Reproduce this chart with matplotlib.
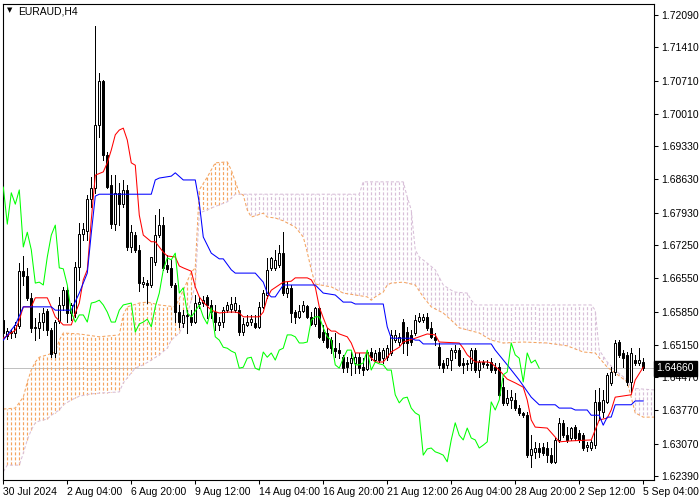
import matplotlib.pyplot as plt
import numpy as np
from matplotlib.transforms import blended_transform_factory

plt.rcParams['font.family'] = ['Liberation Sans', 'DejaVu Sans']

# ---- data (EURAUD H4) ----
symbol = "EURAUD,H4"

opens = [1.6567, 1.6534, 1.6540, 1.6540, 1.6555, 1.6670, 1.6660, 1.6614, 1.6551, 1.6551,
         1.6563, 1.6586, 1.6546, 1.6498, 1.6565, 1.6599, 1.6630, 1.6582, 1.6582, 1.6679,
         1.6748, 1.6755, 1.6822, 1.6845, 1.6978, 1.7070, 1.6914, 1.6851, 1.6769, 1.6835,
         1.6811, 1.6841, 1.6721, 1.6746, 1.6715, 1.6643, 1.6645, 1.6641, 1.6689, 1.6746,
         1.6767, 1.6683, 1.6677, 1.6641, 1.6584, 1.6561, 1.6576, 1.6574, 1.6563, 1.6601,
         1.6603, 1.6616, 1.6599, 1.6584, 1.6557, 1.6563, 1.6588, 1.6591, 1.6588, 1.6588,
         1.6542, 1.6557, 1.6563, 1.6561, 1.6553, 1.6595, 1.6620, 1.6677, 1.6677, 1.6683,
         1.6708, 1.6624, 1.6635, 1.6584, 1.6574, 1.6586, 1.6597, 1.6574, 1.6559, 1.6593,
         1.6542, 1.6540, 1.6525, 1.6508, 1.6504, 1.6489, 1.6479, 1.6477, 1.6477, 1.6489,
         1.6468, 1.6464, 1.6500, 1.6483, 1.6500, 1.6487, 1.6489, 1.6498, 1.6525, 1.6521,
         1.6563, 1.6542, 1.6536, 1.6540, 1.6565, 1.6567, 1.6574, 1.6551, 1.6532, 1.6510,
         1.6477, 1.6473, 1.6483, 1.6500, 1.6504, 1.6477, 1.6475, 1.6477, 1.6504, 1.6462,
         1.6479, 1.6475, 1.6479, 1.6468, 1.6468, 1.6426, 1.6393, 1.6399, 1.6399, 1.6382,
         1.6372, 1.6367, 1.6283, 1.6290, 1.6298, 1.6300, 1.6298, 1.6283, 1.6269, 1.6315,
         1.6351, 1.6325, 1.6319, 1.6342, 1.6330, 1.6325, 1.6300, 1.6298, 1.6304, 1.6395,
         1.6374, 1.6395, 1.6435, 1.6458, 1.6521, 1.6498, 1.6494, 1.6437, 1.6483, 1.6477,
         1.6479]
highs = [1.6572, 1.6551, 1.6548, 1.6563, 1.6687, 1.6702, 1.6677, 1.6624, 1.6572, 1.6582,
         1.6593, 1.6591, 1.6551, 1.6567, 1.6616, 1.6637, 1.6637, 1.6603, 1.6689, 1.6771,
         1.6771, 1.6830, 1.6868, 1.7186, 1.7087, 1.7072, 1.6921, 1.6872, 1.6872, 1.6856,
         1.6862, 1.6851, 1.6767, 1.6752, 1.6725, 1.6658, 1.6652, 1.6694, 1.6788, 1.6801,
         1.6784, 1.6704, 1.6694, 1.6645, 1.6599, 1.6588, 1.6588, 1.6588, 1.6620, 1.6616,
         1.6618, 1.6620, 1.6609, 1.6599, 1.6574, 1.6595, 1.6605, 1.6616, 1.6616, 1.6599,
         1.6572, 1.6578, 1.6578, 1.6578, 1.6605, 1.6630, 1.6698, 1.6700, 1.6715, 1.6725,
         1.6752, 1.6647, 1.6641, 1.6588, 1.6599, 1.6607, 1.6599, 1.6584, 1.6595, 1.6595,
         1.6557, 1.6551, 1.6532, 1.6540, 1.6519, 1.6494, 1.6489, 1.6500, 1.6498, 1.6498,
         1.6487, 1.6504, 1.6508, 1.6504, 1.6508, 1.6508, 1.6515, 1.6546, 1.6546, 1.6540,
         1.6569, 1.6553, 1.6546, 1.6578, 1.6582, 1.6580, 1.6582, 1.6563, 1.6540, 1.6519,
         1.6483, 1.6487, 1.6508, 1.6515, 1.6508, 1.6487, 1.6483, 1.6508, 1.6508, 1.6483,
         1.6483, 1.6483, 1.6487, 1.6477, 1.6477, 1.6445, 1.6420, 1.6420, 1.6414, 1.6389,
         1.6374, 1.6374, 1.6325, 1.6311, 1.6309, 1.6309, 1.6311, 1.6298, 1.6319, 1.6361,
         1.6357, 1.6342, 1.6342, 1.6346, 1.6336, 1.6330, 1.6311, 1.6315, 1.6420, 1.6424,
         1.6420, 1.6456, 1.6468, 1.6525, 1.6525, 1.6504, 1.6500, 1.6508, 1.6494, 1.6508,
         1.6487]
lows = [1.6532, 1.6527, 1.6529, 1.6532, 1.6551, 1.6641, 1.6609, 1.6542, 1.6525, 1.6529,
        1.6546, 1.6536, 1.6489, 1.6489, 1.6561, 1.6588, 1.6563, 1.6567, 1.6574, 1.6652,
        1.6736, 1.6736, 1.6805, 1.6835, 1.6952, 1.6904, 1.6845, 1.6761, 1.6757, 1.6767,
        1.6805, 1.6715, 1.6710, 1.6710, 1.6628, 1.6637, 1.6603, 1.6637, 1.6683, 1.6742,
        1.6673, 1.6668, 1.6637, 1.6563, 1.6553, 1.6553, 1.6540, 1.6557, 1.6561, 1.6593,
        1.6597, 1.6572, 1.6572, 1.6546, 1.6546, 1.6553, 1.6584, 1.6584, 1.6584, 1.6536,
        1.6536, 1.6555, 1.6557, 1.6551, 1.6551, 1.6593, 1.6614, 1.6673, 1.6673, 1.6679,
        1.6620, 1.6616, 1.6563, 1.6561, 1.6572, 1.6584, 1.6572, 1.6557, 1.6555, 1.6529,
        1.6521, 1.6508, 1.6498, 1.6489, 1.6487, 1.6458, 1.6458, 1.6452, 1.6456, 1.6456,
        1.6452, 1.6462, 1.6483, 1.6479, 1.6479, 1.6477, 1.6483, 1.6494, 1.6521, 1.6515,
        1.6498, 1.6494, 1.6515, 1.6536, 1.6563, 1.6563, 1.6546, 1.6529, 1.6515, 1.6466,
        1.6458, 1.6466, 1.6462, 1.6487, 1.6471, 1.6456, 1.6462, 1.6462, 1.6458, 1.6447,
        1.6468, 1.6466, 1.6458, 1.6456, 1.6405, 1.6389, 1.6389, 1.6382, 1.6378, 1.6367,
        1.6363, 1.6279, 1.6258, 1.6277, 1.6279, 1.6283, 1.6269, 1.6266, 1.6266, 1.6311,
        1.6321, 1.6311, 1.6315, 1.6315, 1.6311, 1.6294, 1.6292, 1.6294, 1.6298, 1.6357,
        1.6363, 1.6393, 1.6431, 1.6452, 1.6489, 1.6468, 1.6431, 1.6416, 1.6473, 1.6473,
        1.6462]
closes = [1.6540, 1.6544, 1.6542, 1.6557, 1.6670, 1.6660, 1.6614, 1.6551, 1.6553, 1.6563,
          1.6582, 1.6546, 1.6496, 1.6563, 1.6599, 1.6630, 1.6582, 1.6599, 1.6679, 1.6748,
          1.6759, 1.6822, 1.6845, 1.6978, 1.7070, 1.6914, 1.6847, 1.6769, 1.6835, 1.6811,
          1.6841, 1.6721, 1.6752, 1.6715, 1.6645, 1.6647, 1.6641, 1.6700, 1.6746, 1.6767,
          1.6677, 1.6675, 1.6641, 1.6584, 1.6563, 1.6578, 1.6578, 1.6563, 1.6603, 1.6605,
          1.6609, 1.6599, 1.6584, 1.6563, 1.6563, 1.6588, 1.6599, 1.6601, 1.6603, 1.6542,
          1.6559, 1.6563, 1.6569, 1.6553, 1.6595, 1.6624, 1.6673, 1.6698, 1.6694, 1.6708,
          1.6624, 1.6635, 1.6582, 1.6574, 1.6586, 1.6599, 1.6574, 1.6559, 1.6593, 1.6532,
          1.6525, 1.6510, 1.6508, 1.6502, 1.6498, 1.6466, 1.6468, 1.6487, 1.6489, 1.6466,
          1.6462, 1.6500, 1.6489, 1.6498, 1.6483, 1.6504, 1.6508, 1.6536, 1.6536, 1.6532,
          1.6519, 1.6519, 1.6521, 1.6567, 1.6574, 1.6574, 1.6551, 1.6532, 1.6525, 1.6473,
          1.6466, 1.6487, 1.6504, 1.6504, 1.6473, 1.6473, 1.6477, 1.6504, 1.6462, 1.6479,
          1.6475, 1.6473, 1.6462, 1.6462, 1.6410, 1.6393, 1.6403, 1.6405, 1.6382, 1.6372,
          1.6367, 1.6283, 1.6296, 1.6298, 1.6290, 1.6287, 1.6283, 1.6269, 1.6315, 1.6351,
          1.6325, 1.6315, 1.6340, 1.6319, 1.6315, 1.6298, 1.6304, 1.6311, 1.6395, 1.6378,
          1.6399, 1.6452, 1.6458, 1.6519, 1.6494, 1.6487, 1.6437, 1.6498, 1.6477, 1.6483,
          1.6466]
last_price = 1.64660

# Ichimoku lines, as (bar, value) break points
tenkan_bars = [0, 3, 4, 5, 7, 8, 11, 12, 13, 15, 17, 18, 19, 20, 21, 22, 23, 25, 26, 27,
               28, 29, 30, 31, 32, 33, 34, 35, 37, 38, 40, 41, 43, 44, 45, 47, 48, 49, 50, 52,
               54, 56, 58, 59, 60, 64, 65, 66, 67, 70, 72, 73, 76, 77, 78, 79, 80, 81, 82, 83,
               84, 86, 87, 88, 91, 92, 93, 95, 96, 97, 99, 100, 103, 106, 108, 109, 114, 115, 116, 118,
               121, 122, 124, 126, 128, 130, 131, 132, 133, 136, 138, 139, 142, 147, 148, 149, 151, 152, 153, 157,
               158, 160]
tenkan_vals = [1.6529, 1.6546, 1.6567, 1.6595, 1.6595, 1.6614, 1.6614, 1.6595, 1.6574, 1.6557,
               1.6557, 1.6582, 1.6603, 1.6652, 1.6673, 1.6778, 1.6872, 1.6879, 1.6898, 1.6925,
               1.6957, 1.6967, 1.6971, 1.6946, 1.6898, 1.6893, 1.6788, 1.6746, 1.6732, 1.6732,
               1.6710, 1.6702, 1.6700, 1.6681, 1.6677, 1.6670, 1.6637, 1.6616, 1.6605, 1.6588,
               1.6582, 1.6584, 1.6584, 1.6582, 1.6574, 1.6574, 1.6584, 1.6614, 1.6630, 1.6647,
               1.6649, 1.6656, 1.6656, 1.6652, 1.6637, 1.6595, 1.6572, 1.6551, 1.6544, 1.6544,
               1.6538, 1.6532, 1.6519, 1.6498, 1.6498, 1.6487, 1.6479, 1.6479, 1.6489, 1.6500,
               1.6510, 1.6521, 1.6529, 1.6538, 1.6536, 1.6521, 1.6519, 1.6508, 1.6494, 1.6479,
               1.6479, 1.6477, 1.6462, 1.6443, 1.6435, 1.6426, 1.6399, 1.6357, 1.6342, 1.6340,
               1.6321, 1.6311, 1.6313, 1.6315, 1.6336, 1.6357, 1.6361, 1.6378, 1.6405, 1.6410,
               1.6441, 1.6468]
kijun_bars = [0, 3, 5, 12, 13, 17, 19, 21, 22, 23, 24, 37, 38, 39, 42, 43, 45, 48, 49, 50,
              52, 54, 55, 57, 58, 63, 65, 66, 67, 68, 70, 78, 80, 83, 85, 87, 88, 95, 96, 97,
              102, 103, 104, 105, 122, 123, 126, 129, 132, 134, 138, 139, 142, 143, 146, 147, 149, 150, 151, 152,
              153, 157, 158, 160]
kijun_vals = [1.6525, 1.6557, 1.6595, 1.6595, 1.6588, 1.6588, 1.6624, 1.6666, 1.6750, 1.6828,
              1.6832, 1.6832, 1.6862, 1.6866, 1.6870, 1.6877, 1.6862, 1.6862, 1.6814, 1.6742,
              1.6708, 1.6696, 1.6696, 1.6673, 1.6666, 1.6666, 1.6647, 1.6624, 1.6616, 1.6616,
              1.6641, 1.6641, 1.6624, 1.6620, 1.6605, 1.6605, 1.6601, 1.6601, 1.6553, 1.6529,
              1.6529, 1.6525, 1.6525, 1.6517, 1.6517, 1.6504, 1.6473, 1.6441, 1.6405, 1.6389,
              1.6389, 1.6382, 1.6382, 1.6378, 1.6378, 1.6367, 1.6367, 1.6346, 1.6363, 1.6363,
              1.6389, 1.6389, 1.6397, 1.6397]
span_a_bars = [0, 3, 5, 6, 7, 8, 9, 11, 13, 14, 15, 19, 24, 29, 30, 31, 34, 36, 39, 43,
               45, 47, 48, 49, 51, 53, 56, 57, 59, 60, 61, 62, 65, 66, 68, 70, 73, 75, 76, 77,
               78, 82, 85, 88, 91, 92, 93, 95, 96, 97, 100, 103, 105, 107, 110, 112, 114, 119, 122, 125,
               130, 136, 141, 145, 148, 151, 153, 156, 157, 158, 160, 163]
span_a_vals = [1.6380, 1.6382, 1.6405, 1.6437, 1.6462, 1.6479, 1.6489, 1.6494, 1.6500, 1.6525,
               1.6540, 1.6538, 1.6532, 1.6536, 1.6578, 1.6595, 1.6603, 1.6605, 1.6599, 1.6595,
               1.6630, 1.6668, 1.6677, 1.6841, 1.6868, 1.6898, 1.6900, 1.6883, 1.6835, 1.6830,
               1.6799, 1.6784, 1.6792, 1.6784, 1.6782, 1.6776, 1.6763, 1.6742, 1.6710, 1.6673,
               1.6643, 1.6637, 1.6624, 1.6620, 1.6616, 1.6609, 1.6616, 1.6626, 1.6641, 1.6645,
               1.6647, 1.6641, 1.6616, 1.6595, 1.6582, 1.6567, 1.6551, 1.6540, 1.6525, 1.6519,
               1.6521, 1.6519, 1.6513, 1.6500, 1.6498, 1.6468, 1.6456, 1.6437, 1.6405, 1.6372,
               1.6363, 1.6363]
span_b_bars = [0, 1, 4, 5, 6, 7, 8, 9, 11, 12, 14, 15, 17, 19, 22, 25, 29, 30, 32, 33,
               35, 37, 39, 41, 42, 44, 45, 46, 47, 48, 49, 52, 56, 58, 89, 90, 100, 101, 102, 103,
               104, 106, 108, 110, 112, 113, 116, 117, 118, 147, 148, 149, 151, 153, 156, 157, 163]
span_b_vals = [1.6248, 1.6262, 1.6262, 1.6287, 1.6315, 1.6336, 1.6351, 1.6355, 1.6359, 1.6367,
               1.6378, 1.6389, 1.6399, 1.6407, 1.6412, 1.6414, 1.6416, 1.6435, 1.6456, 1.6466,
               1.6473, 1.6483, 1.6494, 1.6508, 1.6525, 1.6540, 1.6557, 1.6578, 1.6609, 1.6641,
               1.6792, 1.6803, 1.6816, 1.6832, 1.6832, 1.6858, 1.6858, 1.6826, 1.6799, 1.6715,
               1.6700, 1.6687, 1.6673, 1.6641, 1.6630, 1.6626, 1.6624, 1.6609, 1.6599, 1.6599,
               1.6588, 1.6504, 1.6479, 1.6462, 1.6441, 1.6424, 1.6420]
chikou_shift = 26

price_ticks = [1.72090, 1.71410, 1.70710, 1.70010, 1.69330, 1.68630, 1.67930, 1.67250,
               1.66550, 1.65850, 1.65150, 1.64470, 1.63770, 1.63070, 1.62390]
time_label_bars = [0, 16, 32, 48, 64, 80, 96, 112, 128, 144, 160]
time_labels = ['30 Jul 2024', '2 Aug 04:00', '6 Aug 20:00', '9 Aug 12:00', '14 Aug 04:00',
               '16 Aug 20:00', '21 Aug 12:00', '26 Aug 04:00', '28 Aug 20:00', '2 Sep 12:00',
               '5 Sep 04:00']

# ---- figure ----
opens = np.array(opens)
highs = np.array(highs)
lows = np.array(lows)
closes = np.array(closes)
bars = np.arange(len(closes))
px = 0.72  # one pixel, in points
ORANGE, THISTLE = '#f4a460', '#d8bfd8'

fig = plt.figure(figsize=(7, 5), dpi=100)
ax = fig.add_axes([3 / 700, 20 / 500, 651 / 700, 476 / 500])
ax.set_xlim(-0.075, 162.7)
ax.set_ylim(1.62307, 1.72322)
y0, y1 = ax.get_ylim()
px_per_unit = 476 / (y1 - y0)

# cloud: one dotted vertical line per bar between span A and span B,
# dash phase kept on a common pixel grid so the dots line up in rows
hatch_x = np.arange(0, 164)
ha = np.interp(hatch_x, span_a_bars, span_a_vals)
hb = np.interp(hatch_x, span_b_bars, span_b_vals)
lo, hi = np.minimum(ha, hb), np.maximum(ha, hb)
cols = [ORANGE if a >= b else THISTLE for a, b in zip(ha, hb)]
hatch_lw = 0.85
styles = [(((l - y0) * px_per_unit) % 5 * px / hatch_lw, (3 * px / hatch_lw, 2 * px / hatch_lw))
          for l in lo]
ax.vlines(hatch_x, lo, hi, colors=cols, lw=hatch_lw, linestyles=styles, zorder=1)

ax.plot(span_a_bars, span_a_vals, color=ORANGE, lw=0.75, ls=(0, (3, 2)), zorder=2)
ax.plot(span_b_bars, span_b_vals, color=THISTLE, lw=0.75, ls=(0, (3, 2)), zorder=2)

# current price line
ax.axhline(last_price, color='#c0c0c0', lw=px, zorder=0.5, antialiased=False)

# candles
ax.vlines(bars, lows, highs, color='black', lw=px, zorder=3, antialiased=False)
bull = closes >= opens
ax.bar(bars[bull], closes[bull] - opens[bull], bottom=opens[bull], width=0.5,
       facecolor='white', edgecolor='black', lw=px, zorder=4)
ax.bar(bars[~bull], closes[~bull] - opens[~bull], bottom=opens[~bull], width=0.5,
       facecolor='black', edgecolor='black', lw=px, zorder=4)

# tenkan, kijun, chikou
ax.plot(tenkan_bars, tenkan_vals, color='red', lw=0.75, zorder=5)
ax.plot(kijun_bars, kijun_vals, color='blue', lw=0.75, zorder=5)
ax.plot(bars[:-chikou_shift], closes[chikou_shift:], color='lime', lw=0.75, zorder=5)

# axes styling
for sp in ax.spines.values():
    sp.set_linewidth(0.8)
    sp.set_color('black')
ax.yaxis.tick_right()
ax.set_yticks(price_ticks)
ax.set_yticklabels([f'{p:.5f}' for p in price_ticks])
ax.set_xticks(time_label_bars)
ax.set_xticklabels(time_labels)
for lbl in ax.get_xticklabels():
    lbl.set_ha('left')
ax.tick_params(axis='both', direction='out', length=3, width=0.75, labelsize=7.5, pad=2)

tr = blended_transform_factory(ax.transAxes, ax.transData)
ax.text(1.004, last_price, f'{last_price:.5f}', transform=tr, ha='left', va='center',
        color='white', fontsize=7.5, zorder=10,
        bbox=dict(facecolor='black', edgecolor='black', pad=1.8))

fig.text(7 / 700, 1 - 10 / 500, '\u25bc', fontsize=5, va='center', ha='left',
         family='DejaVu Sans')
fig.text(18 / 700, 1 - 11 / 500, symbol, fontsize=7.5, va='center', ha='left')

fig.savefig('out.png', dpi=100)
